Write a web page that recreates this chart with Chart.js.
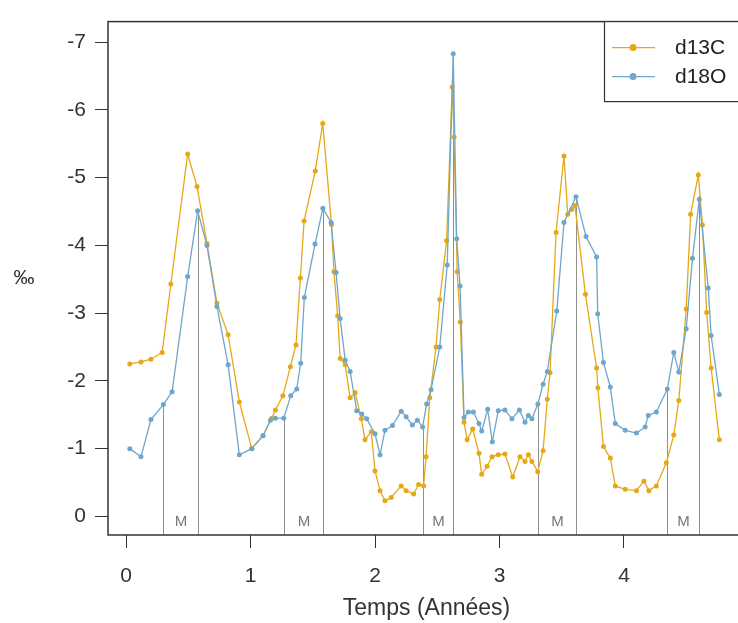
<!DOCTYPE html>
<html>
<head>
<meta charset="utf-8">
<script src="https://cdn.jsdelivr.net/npm/chart.js@4.4.0/dist/chart.umd.min.js"></script>
<style>
html, body { margin: 0; padding: 0; background: #fff; overflow: hidden; }
#cadre { width: 752px; height: 623px; }
</style>
</head>
<body>
<div id="cadre"><canvas id="graphique"></canvas></div>
<script>
// Données (temps en années, valeurs en ‰)
const temps13C = [0.03, 0.12, 0.20, 0.29, 0.36, 0.495, 0.57, 0.65, 0.73, 0.82, 0.91, 1.01, 1.10, 1.17, 1.20, 1.26, 1.32, 1.365, 1.40, 1.43,
  1.52, 1.58, 1.65, 1.67, 1.70, 1.72, 1.76, 1.80, 1.84, 1.89, 1.92, 1.97, 2.00, 2.04, 2.08, 2.13, 2.21, 2.25, 2.31, 2.35,
  2.39, 2.41, 2.44, 2.49, 2.52, 2.575, 2.62, 2.635, 2.66, 2.685, 2.715, 2.74, 2.785, 2.835, 2.857, 2.90, 2.94, 2.99, 3.044, 3.106,
  3.165, 3.205, 3.232, 3.26, 3.307, 3.35, 3.384, 3.406, 3.454, 3.518, 3.548, 3.58, 3.606, 3.69, 3.78, 3.79, 3.835, 3.89, 3.93, 4.01,
  4.10, 4.16, 4.20, 4.26, 4.34, 4.40, 4.44, 4.50, 4.535, 4.597, 4.63, 4.664, 4.70, 4.766];
const d13C = [-2.25, -2.28, -2.32, -2.42, -3.43, -5.35, -4.87, -4.03, -3.15, -2.68, -1.69, -1.00, -1.19, -1.45, -1.57, -1.78, -2.21, -2.53, -3.52, -4.36,
  -5.10, -5.80, -4.31, -3.61, -2.96, -2.33, -2.24, -1.75, -1.83, -1.44, -1.13, -1.25, -0.67, -0.38, -0.23, -0.28, -0.45, -0.38, -0.33, -0.47,
  -0.45, -0.88, -1.75, -2.50, -3.20, -4.07, -6.34, -5.60, -3.61, -2.87, -1.39, -1.13, -1.29, -0.93, -0.62, -0.74, -0.88, -0.91, -0.92, -0.58,
  -0.88, -0.81, -0.91, -0.81, -0.66, -0.97, -1.73, -2.12, -4.19, -5.32, -4.46, -4.53, -4.59, -3.28, -2.19, -1.90, -1.03, -0.86, -0.45, -0.40,
  -0.38, -0.52, -0.38, -0.45, -0.79, -1.20, -1.71, -3.06, -4.46, -5.04, -4.30, -3.01, -2.19, -1.13];

const temps18O = [0.03, 0.12, 0.20, 0.30, 0.37, 0.495, 0.575, 0.65, 0.73, 0.82, 0.91, 1.01, 1.10, 1.16, 1.20, 1.267, 1.323, 1.371, 1.403, 1.432,
  1.518, 1.581, 1.647, 1.687, 1.72, 1.76, 1.80, 1.853, 1.893, 1.933, 2.00, 2.04, 2.08, 2.14, 2.21, 2.25, 2.30, 2.34, 2.382, 2.415,
  2.45, 2.52, 2.58, 2.628, 2.656, 2.683, 2.715, 2.75, 2.79, 2.835, 2.857, 2.905, 2.942, 2.99, 3.044, 3.10, 3.16, 3.205, 3.232, 3.26,
  3.308, 3.35, 3.384, 3.46, 3.518, 3.614, 3.695, 3.78, 3.789, 3.835, 3.89, 3.93, 4.01, 4.10, 4.17, 4.195, 4.26, 4.348, 4.40, 4.44,
  4.50, 4.55, 4.605, 4.677, 4.70, 4.766];
const d18O = [-1.00, -0.88, -1.43, -1.65, -1.84, -3.54, -4.51, -4.00, -3.10, -2.24, -0.91, -1.00, -1.19, -1.42, -1.45, -1.45, -1.78, -1.88, -2.26, -3.23,
  -4.02, -4.55, -4.34, -3.60, -2.92, -2.31, -2.14, -1.56, -1.51, -1.44, -1.22, -0.91, -1.27, -1.34, -1.55, -1.47, -1.35, -1.42, -1.32, -1.66,
  -1.87, -2.50, -3.71, -6.83, -4.10, -3.40, -1.46, -1.54, -1.54, -1.37, -1.26, -1.58, -1.10, -1.56, -1.57, -1.44, -1.57, -1.39, -1.49, -1.44,
  -1.66, -1.95, -2.14, -3.03, -4.34, -4.72, -4.13, -3.83, -2.99, -2.27, -1.91, -1.37, -1.27, -1.23, -1.32, -1.49, -1.54, -1.88, -2.42, -2.13,
  -2.77, -3.81, -4.68, -3.37, -2.67, -1.80];

// Traits verticaux (par paires) marquant les périodes "M"
const lignesM = [0.30, 0.575, 1.267, 1.581, 2.382, 2.628, 3.308, 3.614, 4.348, 4.605];
const etiquetteM = 'M';

const xTicks = [0, 1, 2, 3, 4];
const yTicks = [0, -1, -2, -3, -4, -5, -6, -7];

const series = ['d13C', 'd18O'];
const couleurs = ['#E6A817', '#6FA6CB'];

const police = '"Liberation Sans", Arial, sans-serif';
const canvas = document.getElementById('graphique');
const ctx = canvas.getContext('2d');

// Cadre, traits M, légende et unité, façon graphique R
const styleR = {
  id: 'styleR',
  beforeDatasetsDraw(chart) {
    const { ctx, chartArea, scales } = chart;
    ctx.save();
    ctx.strokeStyle = '#8f8f8f';
    ctx.lineWidth = 1;
    const px = [];
    lignesM.forEach(t => {
      let i = 0;
      temps18O.forEach((v, j) => { if (Math.abs(v - t) < Math.abs(temps18O[i] - t)) i = j; });
      const x = Math.round(scales.x.getPixelForValue(temps18O[i])) + 0.5;
      px.push(x);
      ctx.beginPath();
      ctx.moveTo(x, chartArea.bottom);
      ctx.lineTo(x, scales.y.getPixelForValue(d18O[i]));
      ctx.stroke();
    });
    ctx.fillStyle = '#777';
    ctx.font = '15px ' + police;
    ctx.textAlign = 'center';
    ctx.textBaseline = 'middle';
    for (let k = 0; k < px.length; k += 2) {
      ctx.fillText(etiquetteM, (px[k] + px[k + 1]) / 2, chartArea.bottom - 13);
    }
    ctx.restore();
  },
  afterDraw(chart) {
    const { ctx, chartArea } = chart;
    ctx.save();
    ctx.strokeStyle = '#333';
    ctx.lineWidth = 1.5;
    ctx.strokeRect(chartArea.left, chartArea.top, chartArea.right - chartArea.left, chartArea.bottom - chartArea.top);

    // légende
    const lx = 604, ly = chartArea.top;
    ctx.fillStyle = '#fff';
    ctx.fillRect(lx, ly, 200, 80);
    ctx.lineWidth = 1.2;
    ctx.strokeRect(lx + 0.5, ly, 200, 80);
    series.forEach((nom, k) => {
      const y = ly + 26 + k * 29;
      ctx.strokeStyle = couleurs[k];
      ctx.lineWidth = 1.3;
      ctx.beginPath();
      ctx.moveTo(lx + 8, y);
      ctx.lineTo(lx + 51, y);
      ctx.stroke();
      ctx.fillStyle = couleurs[k];
      ctx.beginPath();
      ctx.arc(lx + 29, y, 3.5, 0, Math.PI * 2);
      ctx.fill();
      ctx.fillStyle = '#222';
      ctx.font = '21px ' + police;
      ctx.textAlign = 'left';
      ctx.textBaseline = 'middle';
      ctx.fillText(nom, lx + 71, y + 1);
    });

    // unité de l'axe y
    ctx.fillStyle = '#333';
    ctx.font = '21px ' + police;
    ctx.textAlign = 'center';
    ctx.textBaseline = 'middle';
    ctx.fillText('‰', 24, (chartArea.top + chartArea.bottom) / 2);
    ctx.restore();
  }
};

function serie(temps, valeurs) {
  return temps.map((t, i) => ({ x: t, y: valeurs[i] }));
}

const graphique = new Chart(ctx, {
  type: 'line',
  data: {
    datasets: [
      {
        label: series[0],
        data: serie(temps13C, d13C),
        borderColor: couleurs[0],
        backgroundColor: couleurs[0],
        borderWidth: 1.3,
        pointRadius: 2.5,
        pointBorderWidth: 0,
        tension: 0,
        order: 1
      },
      {
        label: series[1],
        data: serie(temps18O, d18O),
        borderColor: couleurs[1],
        backgroundColor: couleurs[1],
        borderWidth: 1.3,
        pointRadius: 2.5,
        pointBorderWidth: 0,
        tension: 0,
        order: 0
      }
    ]
  },
  options: {
    responsive: true,
    maintainAspectRatio: false,
    animation: false,
    layout: { padding: { top: 12, right: 7, left: 0, bottom: 0 } },
    plugins: { legend: { display: false }, tooltip: { enabled: false } },
    scales: {
      x: {
        type: 'linear',
        min: -0.145,
        max: 4.972,
        afterBuildTicks: scale => { scale.ticks = xTicks.map(v => ({ value: v })); },
        afterFit: scale => { scale.height = 88; },
        grid: { display: true, drawOnChartArea: false, drawTicks: true, tickLength: 13, color: '#333' },
        border: { display: false },
        ticks: { color: '#333', padding: 16, font: { size: 21, family: police }, maxRotation: 0 },
        title: { display: true, text: 'Temps (Années)', color: '#333', font: { size: 23, family: police }, padding: { top: 0, bottom: 1 } }
      },
      y: {
        type: 'linear',
        reverse: true,
        min: -7.304,
        max: 0.275,
        afterBuildTicks: scale => { scale.ticks = yTicks.map(v => ({ value: v })); },
        afterFit: scale => { scale.width = 108; },
        grid: { display: true, drawOnChartArea: false, drawTicks: true, tickLength: 13, color: '#333' },
        border: { display: false },
        ticks: { color: '#333', padding: 9, font: { size: 21, family: police } }
      }
    }
  },
  plugins: [styleR]
});
</script>
</body>
</html>
